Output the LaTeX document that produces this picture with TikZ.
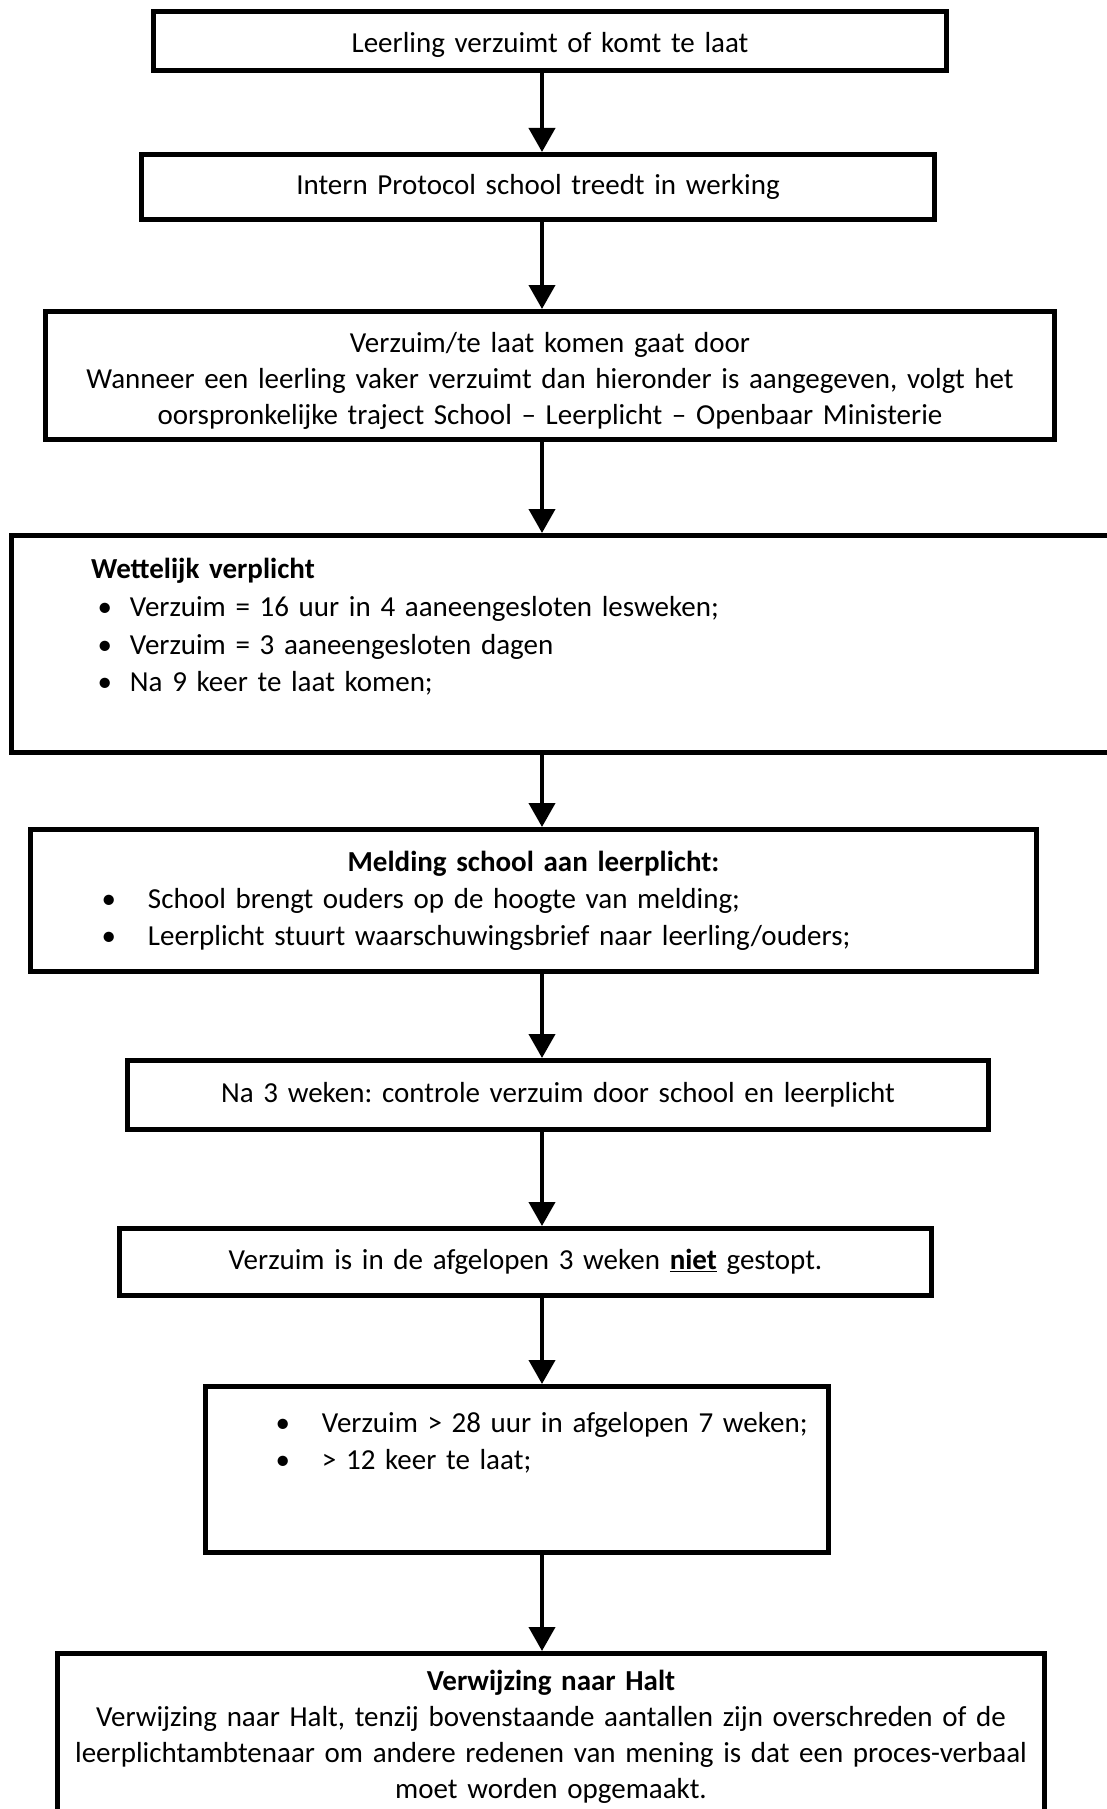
\documentclass[tikz,border=0pt]{standalone}
\usepackage{fontspec}
\setmainfont{Carlito}
\usepackage{tikz}
\usetikzlibrary{arrows.meta}
\setlength{\parindent}{0pt}
\frenchspacing

\newcommand{\itm}[3]{\par\hspace*{#1}\makebox[#2][l]{\textbullet}#3}

\begin{document}
\begin{tikzpicture}[x=1pt, y=-1pt,
  box/.style={draw, line width=5pt, inner sep=0pt, align=center, font=\fontsize{29}{37}\selectfont},
  arr/.style={line width=4pt, -{Triangle[width=26pt, length=24pt]}}]
  \useasboundingbox (0,0) rectangle (1106,1809);
  \coordinate (ax) at (542,0);
  \node[box, text width=793pt, minimum height=59pt] (verzuim) at (550,41) {\rule{0pt}{27pt}Leerling verzuimt of komt te laat};
  \node[box, text width=793pt, minimum height=65pt] (intern) at (538,187) {Intern Protocol school treedt in werking};
  \node[box, text width=1009pt, minimum height=128pt, font=\fontsize{29}{36}\selectfont] (doorgaan) at (550,375.5) {\rule{0pt}{31pt}Verzuim/te laat komen gaat door\\
    Wanneer een leerling vaker verzuimt dan hieronder is aangegeven, volgt het\\
    oorspronkelijke traject School -- Leerplicht -- Openbaar Ministerie};
  \node[box, align=left, text width=1128.5pt, minimum height=217pt, font=\fontsize{29}{37.7}\selectfont] (wettelijk) at (575.75,644) {%
    \hspace*{79.5pt}\textbf{Wettelijk verplicht}
    \itm{86pt}{32.5pt}{Verzuim = 16 uur in 4 aaneengesloten lesweken;}
    \itm{86pt}{32.5pt}{Verzuim = 3 aaneengesloten dagen}
    \itm{86pt}{32.5pt}{Na 9 keer te laat komen;}
    \par\mbox{}\par\vspace*{7pt}};
  \node[box, align=left, text width=1006pt, minimum height=142pt] (melding) at (533.5,900.5) {%
    {\centering\bfseries Melding school aan leerplicht:\par}
    \itm{71pt}{46.5pt}{School brengt ouders op de hoogte van melding;}
    \itm{71pt}{46.5pt}{Leerplicht stuurt waarschuwingsbrief naar leerling/ouders;}
    \par\vspace*{5pt}};
  \node[box, text width=861pt, minimum height=69pt] (controle) at (558,1095) {Na 3 weken: controle verzuim door school en leerplicht};
  \node[box, text width=812pt, minimum height=67pt] (nietgestopt) at (525.5,1262) {Verzuim is in de afgelopen 3 weken \textbf{\underline{niet}} gestopt.};
  \node[box, align=left, text width=623pt, minimum height=166pt] (grens) at (517,1469.5) {%
    \itm{70pt}{46.5pt}{Verzuim > 28 uur in afgelopen 7 weken;}
    \itm{70pt}{46.5pt}{> 12 keer te laat;}
    \par\mbox{}\par\mbox{}\par\vspace*{8pt}};
  \node[box, text width=987pt, minimum height=166.5pt, font=\fontsize{29}{36}\selectfont] (halt) at (551,1736.75) {\textbf{Verwijzing naar Halt}\\
    Verwijzing naar Halt, tenzij bovenstaande aantallen zijn overschreden of de\\
    leerplichtambtenaar om andere redenen van mening is dat een proces-verbaal\\
    moet worden opgemaakt.};
  \foreach \a/\b in {verzuim/intern, intern/doorgaan, doorgaan/wettelijk, wettelijk/melding,
    melding/controle, controle/nietgestopt, nietgestopt/grens, grens/halt}
    \draw[arr] (ax |- \a.south) -- (ax |- \b.north);
\end{tikzpicture}
\end{document}
